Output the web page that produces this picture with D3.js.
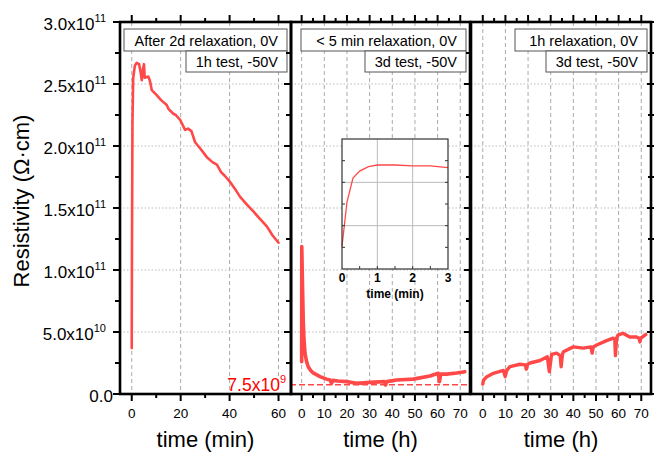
<!DOCTYPE html>
<html><head><meta charset="utf-8">
<script src="https://cdn.jsdelivr.net/npm/d3@7"></script>
<style>body{margin:0;background:#fff}svg{display:block;font-family:"Liberation Sans",Arial,sans-serif}</style>
</head><body><svg id="c" width="654" height="455"></svg>
<script>
// ---- data (resistivity in units of 1e11 Ω·cm) ----
const p1Time = [0,0.1,0.3,0.6,1.3,2.0,3.0,3.6,4.1,4.6,5.0,5.3,6.8,7.5,8.2,10.2,12,14.3,15,17,18,19.8,21.8,23,24.4,25.9,28,30.7,33,34.8,36.5,38,40.2,42,44.3,47,49.8,52.5,55.3,57.5,60];
const p1Val  = [0.37,1.2,2.2,2.55,2.65,2.67,2.66,2.60,2.53,2.62,2.66,2.55,2.56,2.52,2.45,2.41,2.37,2.33,2.30,2.26,2.25,2.21,2.13,2.14,2.12,2.03,1.98,1.91,1.87,1.85,1.79,1.76,1.71,1.66,1.59,1.53,1.47,1.41,1.35,1.28,1.22];
const p2Time = [0,0.05,0.3,0.7,1.0,1.46,2.2,2.9,4,5.1,8.1,11,12.5,13.2,13.8,16,19.7,24.3,30,36.5,37,37.6,41.9,49.3,56.6,60.3,60.8,61.4,64,68.4,72];
const p2Val  = [0.26,1.19,0.95,0.6,0.45,0.33,0.26,0.22,0.19,0.17,0.14,0.12,0.113,0.086,0.11,0.105,0.10,0.086,0.094,0.10,0.073,0.10,0.113,0.12,0.145,0.167,0.10,0.16,0.16,0.17,0.18];
const p3Time = [0,0.3,1.8,4.7,9.1,9.9,10.6,12,16.5,18.8,19.2,19.8,20.9,25.3,28.5,29.4,30.4,32.6,34.2,34.6,35.2,35.6,40,44.4,47.8,48.3,48.8,50.3,54.7,57.6,58.3,58.6,59.1,59.7,61.9,64.9,67.9,69.0,69.4,69.8,71.6,72];
const p3Val  = [0.08,0.11,0.14,0.167,0.19,0.14,0.19,0.22,0.24,0.235,0.20,0.24,0.25,0.27,0.30,0.18,0.32,0.33,0.31,0.22,0.32,0.34,0.38,0.37,0.38,0.33,0.38,0.395,0.43,0.45,0.44,0.31,0.45,0.475,0.49,0.46,0.46,0.45,0.42,0.45,0.475,0.48];
const insetTime = [0,0.14,0.31,0.5,0.75,1.0,1.5,2.0,2.5,3.0];
const insetVal  = [0.26,0.77,1.05,1.13,1.18,1.20,1.20,1.19,1.19,1.17];
const yTicks = [0,0.5,1.0,1.5,2.0,2.5,3.0];
const yTickLabels = [["0.0",""],["5.0x10","10"],["1.0x10","11"],["1.5x10","11"],["2.0x10","11"],["2.5x10","11"],["3.0x10","11"]];
const p1XTicks = [0,20,40,60];
const hXTicks = [0,10,20,30,40,50,60,70];
const insetXTicks = [0,1,2,3];
const legendLines = [
  ["After 2d relaxation, 0V","1h test, -50V"],
  ["< 5 min relaxation, 0V","3d test, -50V"],
  ["1h relaxation, 0V","3d test, -50V"]
];
const xTitles = ["time (min)","time (h)","time (h)"];
const refValue = 0.075; // 7.5e9
const refLabel = ["7.5x10","9"];

// ---- layout ----
const svg = d3.select("#c");
const yTop = 22, yBot = 394;
const y = d3.scaleLinear().domain([0,3.0]).range([yBot, yTop]);
const panels = [
  {x0:120, x1:291, dom:[-4.8,65.1], ticks:p1XTicks, minor:[10,30,50], t:p1Time, v:p1Val, lw:2.6, legW:[163,101]},
  {x0:291, x1:470, dom:[-4.7,74.3], ticks:hXTicks, minor:[5,15,25,35,45,55,65], t:p2Time, v:p2Val, lw:3.6, legW:[165,101]},
  {x0:471, x1:651, dom:[-5.2,74.3], ticks:hXTicks, minor:[5,15,25,35,45,55,65], t:p3Time, v:p3Val, lw:3.4, legW:[132,101]}
];
const red = "#ff4848";
const yMinor = d3.range(0.25,3.0,0.5);

panels.forEach((p,i)=>{
  const x = d3.scaleLinear().domain(p.dom).range([p.x0,p.x1]);
  p.x = x;
  const g = svg.append("g");
  g.selectAll(".vg").data(p.ticks).join("line")
    .attr("x1",d=>x(d)).attr("x2",d=>x(d)).attr("y1",yTop).attr("y2",yBot)
    .attr("stroke","#aaa").attr("stroke-width",1).attr("stroke-dasharray","4,3");
  g.selectAll(".hg").data(yTicks.filter(d=>d>0&&d<3)).join("line")
    .attr("x1",p.x0).attr("x2",p.x1).attr("y1",d=>y(d)).attr("y2",d=>y(d))
    .attr("stroke","#bbb").attr("stroke-width",1).attr("stroke-dasharray","1.5,2");
});

// reference dashed line (panel 2)
svg.append("line").attr("x1",290).attr("x2",468).attr("y1",y(refValue)).attr("y2",y(refValue))
  .attr("stroke",red).attr("stroke-width",1.5).attr("stroke-dasharray","6,3");

panels.forEach((p,i)=>{
  const x = p.x;
  const line = d3.line().x((d,j)=>x(p.t[j])).y(d=>y(d)).curve(d3.curveLinear);
  svg.append("path").datum(p.v).attr("d",line).attr("fill","none")
    .attr("stroke",red).attr("stroke-width",p.lw).attr("stroke-linejoin","round").attr("stroke-linecap","round");
});

// inset (panel 2)
{
  const ix = d3.scaleLinear().domain([0,3]).range([342,448]);
  const iy = d3.scaleLinear().domain([0,1.5]).range([269,139]);
  const g = svg.append("g");
  g.append("rect").attr("x",342).attr("y",139).attr("width",106).attr("height",130).attr("fill","#fff");
  g.selectAll(".ig").data([1,2]).join("line").attr("x1",d=>ix(d)).attr("x2",d=>ix(d)).attr("y1",139).attr("y2",269).attr("stroke","#bbb");
  g.selectAll(".ih").data([0.5,1.0]).join("line").attr("y1",d=>iy(d)).attr("y2",d=>iy(d)).attr("x1",342).attr("x2",448).attr("stroke","#bbb");
  const il = d3.line().x((d,j)=>ix(insetTime[j])).y(d=>iy(d));
  g.append("path").datum(insetVal).attr("d",il).attr("fill","none").attr("stroke",red).attr("stroke-width",1.3);
  g.selectAll(".ity").data(d3.range(0.25,1.5,0.25)).join("line").attr("x1",342).attr("x2",345).attr("y1",d=>iy(d)).attr("y2",d=>iy(d)).attr("stroke","#333");
  g.selectAll(".ity2").data(d3.range(0.25,1.5,0.25)).join("line").attr("x1",445).attr("x2",448).attr("y1",d=>iy(d)).attr("y2",d=>iy(d)).attr("stroke","#333");
  g.selectAll(".itx").data(d3.range(0.5,3,0.5)).join("line").attr("y1",269).attr("y2",266).attr("x1",d=>ix(d)).attr("x2",d=>ix(d)).attr("stroke","#333");
  g.append("rect").attr("x",342).attr("y",139).attr("width",106).attr("height",130).attr("fill","none").attr("stroke","#333").attr("stroke-width",1.2);
  g.selectAll(".itl").data(insetXTicks).join("text").attr("x",d=>ix(d)).attr("y",282)
    .attr("text-anchor","middle").attr("font-size",12).attr("font-weight","bold").text(d=>d);
  g.append("text").attr("x",395).attr("y",298).attr("text-anchor","middle").attr("font-size",12).attr("font-weight","bold").text("time (min)");
}

// axes, frames, ticks
panels.forEach((p,i)=>{
  const x = p.x;
  const g = svg.append("g").attr("stroke","#000");
  g.selectAll(".xb").data(p.ticks).join("line").attr("x1",d=>x(d)).attr("x2",d=>x(d)).attr("y1",yBot).attr("y2",yBot+7).attr("stroke-width",2);
  g.selectAll(".xbm").data(p.minor).join("line").attr("x1",d=>x(d)).attr("x2",d=>x(d)).attr("y1",yBot).attr("y2",yBot+4).attr("stroke-width",2);
  g.selectAll(".xt").data(p.ticks).join("line").attr("x1",d=>x(d)).attr("x2",d=>x(d)).attr("y1",yTop).attr("y2",yTop-7).attr("stroke-width",2);
  g.selectAll(".xtm").data(p.minor).join("line").attr("x1",d=>x(d)).attr("x2",d=>x(d)).attr("y1",yTop).attr("y2",yTop-4).attr("stroke-width",2);
  g.selectAll(".yl").data(yTicks).join("line").attr("x1",p.x0).attr("x2",p.x0-7).attr("y1",d=>y(d)).attr("y2",d=>y(d)).attr("stroke-width",2);
  g.selectAll(".ylm").data(yMinor).join("line").attr("x1",p.x0).attr("x2",p.x0-5).attr("y1",d=>y(d)).attr("y2",d=>y(d)).attr("stroke-width",2);
  if(i===2){
    g.selectAll(".yr").data(yTicks).join("line").attr("x1",p.x1-4).attr("x2",p.x1+4).attr("y1",d=>y(d)).attr("y2",d=>y(d)).attr("stroke-width",2);
    g.selectAll(".yrm").data(yMinor).join("line").attr("x1",p.x1-3).attr("x2",p.x1+3).attr("y1",d=>y(d)).attr("y2",d=>y(d)).attr("stroke-width",2);
  }
  g.append("rect").attr("x",p.x0).attr("y",yTop).attr("width",p.x1-p.x0).attr("height",yBot-yTop)
    .attr("fill","none").attr("stroke-width",2.6);
  svg.append("g").selectAll("text").data(p.ticks).join("text").attr("x",d=>x(d)).attr("y",418)
    .attr("text-anchor","middle").attr("font-size",13.5).text(d=>d);
  svg.append("text").attr("x",(p.x0+p.x1)/2).attr("y",447).attr("text-anchor","middle").attr("font-size",22).text(xTitles[i]);
  const right = p.x1-4;
  const lg = svg.append("g");
  [0,1].forEach(k=>{
    const yb = k===0?29:51, h = k===0?22:21;
    lg.append("rect").attr("x",right-p.legW[k]).attr("y",yb).attr("width",p.legW[k]).attr("height",h)
      .attr("fill","#fff").attr("stroke","#555").attr("stroke-width",1);
    lg.append("text").attr("x",right-9).attr("y",yb+h-5.5).attr("text-anchor","end").attr("font-size",14.5).text(legendLines[i][k]);
  });
});

// y tick labels
const yl = svg.append("g").selectAll("text").data(yTicks).join("text")
  .attr("x",106).attr("y",d=>y(d)+7.5).attr("text-anchor","end").attr("font-size",17);
yl.each(function(d,i){
  const t = d3.select(this);
  const lab = yTickLabels[i];
  if(lab[1]===""){ t.attr("x",113).text(lab[0]); }
  else {
    t.append("tspan").text(lab[0]);
    t.append("tspan").attr("dy",-8).attr("font-size",11).text(lab[1]);
  }
});

svg.append("text").attr("transform","translate(29,201) rotate(-90)").attr("text-anchor","middle").attr("font-size",22).text("Resistivity (Ω·cm)");

const rl = svg.append("text").attr("x",286).attr("y",391).attr("text-anchor","end").attr("font-size",17.5).attr("fill","red");
rl.append("tspan").text(refLabel[0]);
rl.append("tspan").attr("dy",-8).attr("font-size",11).text(refLabel[1]);
</script></body></html>
